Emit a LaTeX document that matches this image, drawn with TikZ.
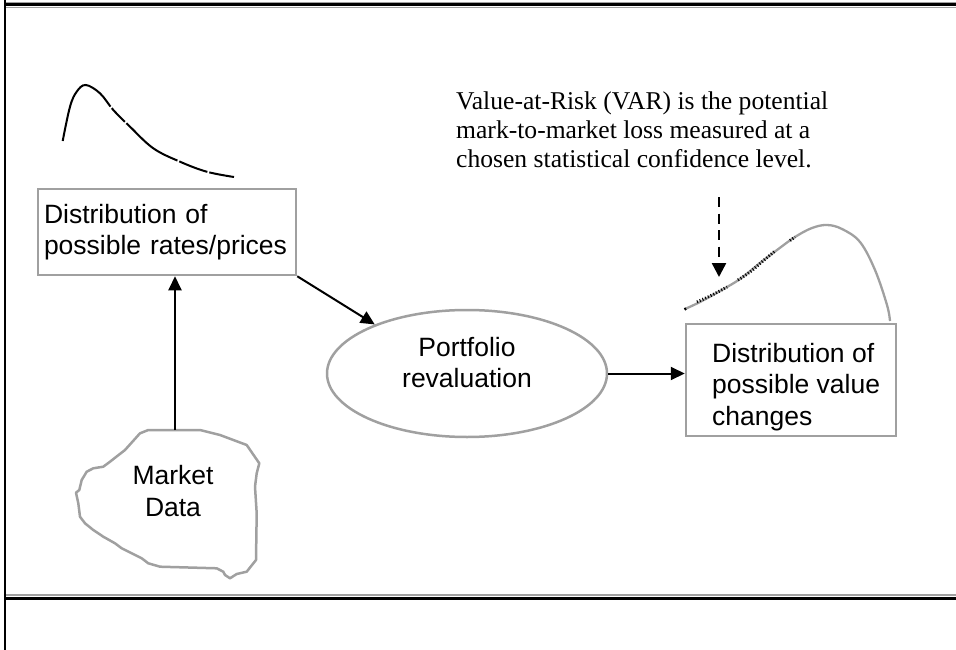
\documentclass[tikz,border=0pt]{standalone}
\usepackage{fontspec}
\setmainfont{Liberation Serif}
\newfontfamily\arialfont{Liberation Sans}
\usetikzlibrary{arrows.meta,shapes.geometric}
\definecolor{boxgray}{RGB}{160,160,160}
\tikzset{
  boxnode/.style={draw=boxgray, line width=2.5pt, rectangle, align=left, inner sep=0pt,
    font=\arialfont\fontsize{26.5}{31.5}\selectfont},
  ellnode/.style={draw=boxgray, line width=2.5pt, ellipse, inner sep=0pt},
  sanstext/.style={align=center, inner sep=0pt, font=\arialfont\fontsize{26.5}{31.5}\selectfont},
  flowarrow/.style={line width=2pt, -{Triangle[length=14pt,width=13pt]}},
  vararrow/.style={line width=2.5pt, dash pattern=on 10pt off 6.5pt, -{Triangle[length=14pt,width=14pt]}},
  vartext/.style={align=left, inner sep=0pt, font=\fontsize{25.6}{29}\selectfont},
}
\begin{document}
\begin{tikzpicture}[x=1pt,y=-1pt]
\useasboundingbox (0,0) rectangle (956,650);
% frame lines
\draw[boxgray, line width=1pt] (4,2.2) -- (956,2.2);
\draw[black, line width=2.4pt] (4,4.5) -- (956,4.5);
\draw[boxgray, line width=1pt] (4,7.8) -- (956,7.8);
\draw[boxgray, line width=1.6pt] (4,594.8) -- (956,594.8);
\draw[black, line width=3.6pt] (4,598.5) -- (956,598.5);
\draw[black, line width=1.8pt] (4.7,0) -- (4.7,650);

% nodes
\node[boxnode, minimum width=258pt, minimum height=86pt, text width=246pt] (lbox) at (167,232)
  {Distribution of\\possible rates/prices};
\node[ellnode, minimum width=280pt, minimum height=127pt] (ell) at (467,373.5) {};
\node[sanstext] (elltext) at (467,362.5) {Portfolio\\revaluation};
\node[boxnode, minimum width=210pt, minimum height=112pt] (rbox) at (791,380) {};
\node[sanstext, align=left, anchor=west] (rtext) at (712,387) {Distribution of\\possible value\\changes};
\node[sanstext] (md) at (173,491) {Market\\Data};
\node[vartext, anchor=north west] (var) at (456,92)
  {Value-at-Risk (VAR) is the potential\\mark-to-market loss measured at a\\chosen statistical confidence level.};

% cloud
\draw[boxgray, line width=2.5pt, line join=round]
  (148.3,430) -- (200,430) -- (220,435) -- (246.7,445) -- (259.3,463.3) -- (256.7,473.3)
  -- (255,486.7) -- (256.7,513.3) -- (256,560) -- (246.7,571.7) -- (236.7,574) -- (230,578.3)
  -- (225,575) -- (223.3,571.7) -- (216.7,568.3) -- (160,566.7) -- (148.3,563.3) -- (141.7,558.3)
  -- (121.7,548.3) -- (115,543.3) -- (103.3,536.7) -- (93.3,530) -- (85,523.3) -- (80,516.7)
  -- (78.3,503.3) -- (76,492.7) -- (79.3,490) -- (81.7,480) -- (86.7,471.7) -- (93.3,468.3)
  -- (103.3,466.7) -- (110,461.7) -- (125,450) -- (140,433.3) -- cycle;
\coordinate (mdtop) at (175,430);

% left distribution curve
\draw[line width=2pt, dash pattern=on 97pt off 2pt on 19pt off 2pt on 64pt off 2pt on 30pt off 2pt on 60pt]
  plot[smooth, tension=0.6] coordinates {(62.7,141) (70,106.7) (76.7,91.7) (85.7,85) (100,93.3)
  (113.3,110) (130,126.7) (153.3,148.3) (180,161.7) (206.7,171.7) (234,177)};

% right distribution curve
\draw[boxgray, line width=2.3pt]
  plot[smooth, tension=0.6] coordinates {(685,309) (700,302) (720,291) (740,279) (760,263)
  (777,250) (795,237) (812,228) (827,225) (842,229) (860,242) (875,270) (887,305) (890,321)};
\draw[black, line width=3pt, dash pattern=on 1pt off 2pt]
  plot[smooth, tension=0.6] coordinates {(697,302) (712,295) (727,287)};
\draw[black, line width=3pt, dash pattern=on 1pt off 2pt]
  plot[smooth, tension=0.6] coordinates {(738,280) (750,272) (763,261) (775,251)};
\draw[black, line width=3pt, dash pattern=on 1pt off 2pt]
  (790,240.5) -- (795,237);
\draw[black, line width=2.6pt] (684.5,309.5) -- (686,308.5);

% connectors
\draw[flowarrow] (mdtop) -- (lbox.south -| mdtop);
\draw[flowarrow] (lbox.south east) -- (ell.152);
\draw[flowarrow] (ell.east) -- (rbox.west |- ell.east);
\coordinate (varstart) at (719,197);
\coordinate (vartip) at (719,277);
\draw[vararrow] (varstart) -- (vartip);
\end{tikzpicture}
\end{document}
